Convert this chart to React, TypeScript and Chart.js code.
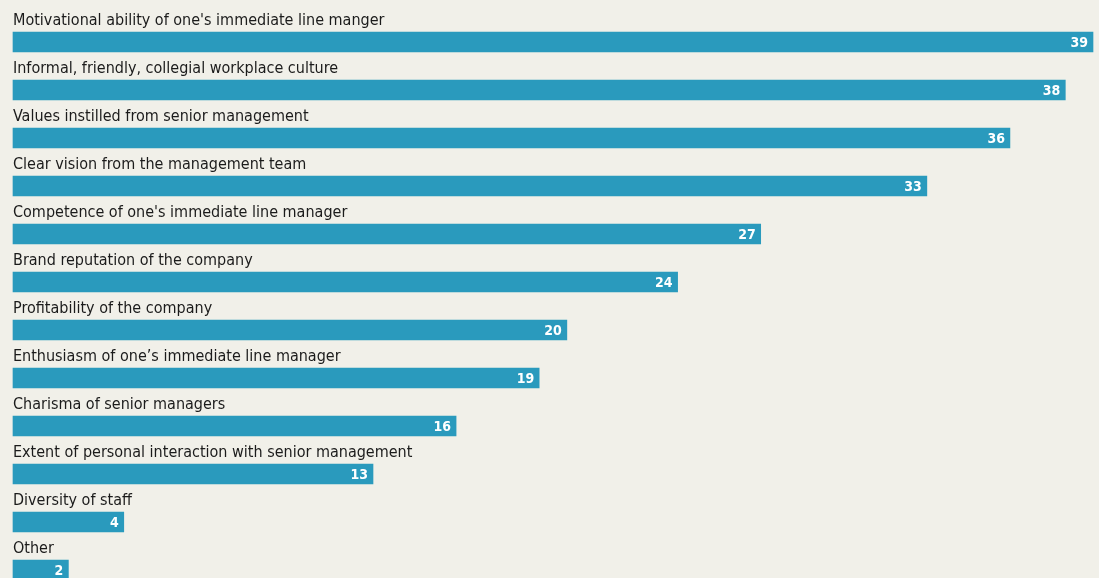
import React, { useEffect, useRef } from "react";
import { Chart, registerables } from "chart.js";

Chart.register(...registerables);

const categories = [
  "Motivational ability of one's immediate line manger",
  "Informal, friendly, collegial workplace culture",
  "Values instilled from senior management",
  "Clear vision from the management team",
  "Competence of one's immediate line manager",
  "Brand reputation of the company",
  "Profitability of the company",
  "Enthusiasm of one\u2019s immediate line manager",
  "Charisma of senior managers",
  "Extent of personal interaction with senior management",
  "Diversity of staff",
  "Other",
];

const values = [39, 38, 36, 33, 27, 24, 20, 19, 16, 13, 4, 2];

const BG = "#f1f0e9";
const BAR = "#2a9abd";
const LABEL_FONT = "16px 'Liberation Sans Narrow', 'DejaVu Sans Condensed', 'Noto Sans', sans-serif";
const VALUE_FONT = "bold 14px 'Liberation Sans Narrow', 'DejaVu Sans Condensed', 'Noto Sans', sans-serif";

const labelPlugin = {
  id: "barLabels",
  afterDatasetsDraw(chart: any) {
    const ctx = chart.ctx;
    const meta = chart.getDatasetMeta(0);
    const left = chart.chartArea.left;
    ctx.save();
    meta.data.forEach((bar: any, i: number) => {
      ctx.font = LABEL_FONT;
      ctx.fillStyle = "#1b1b1b";
      ctx.textAlign = "left";
      ctx.textBaseline = "alphabetic";
      ctx.fillText(String(chart.data.labels[i]), left, bar.y - 17);
      ctx.font = VALUE_FONT;
      ctx.fillStyle = "#ffffff";
      ctx.textAlign = "right";
      ctx.textBaseline = "middle";
      ctx.fillText(String(chart.data.datasets[0].data[i]), bar.x - 5, bar.y + 1);
    });
    ctx.restore();
  },
};

const bgPlugin = {
  id: "bg",
  beforeDraw(chart: any) {
    const ctx = chart.ctx;
    ctx.save();
    ctx.fillStyle = BG;
    ctx.fillRect(0, 0, chart.width, chart.height);
    ctx.restore();
  },
};

export default function App() {
  const ref = useRef<HTMLCanvasElement>(null);
  useEffect(() => {
    document.body.style.margin = "0";
    document.body.style.background = BG;
    const chart = new Chart(ref.current!, {
      type: "bar",
      data: {
        labels: categories,
        datasets: [
          {
            data: values,
            backgroundColor: BAR,
            borderWidth: 0,
            barThickness: 20,
            clip: false,
          },
        ],
      },
      options: {
        indexAxis: "y",
        animation: false,
        responsive: false,
        maintainAspectRatio: false,
        layout: { padding: { left: 13, right: 6, top: 42, bottom: 8 } },
        plugins: { legend: { display: false }, tooltip: { enabled: false } },
        scales: {
          x: { display: false, min: 0, max: 39 },
          y: { display: false, offset: false },
        },
      },
      plugins: [bgPlugin, labelPlugin],
    });
    return () => chart.destroy();
  }, []);
  return (
    <div style={{ position: "fixed", left: 0, top: 0, width: 1099, height: 578, background: BG }}>
      <canvas ref={ref} width={1099} height={578} style={{ display: "block" }} />
    </div>
  );
}
